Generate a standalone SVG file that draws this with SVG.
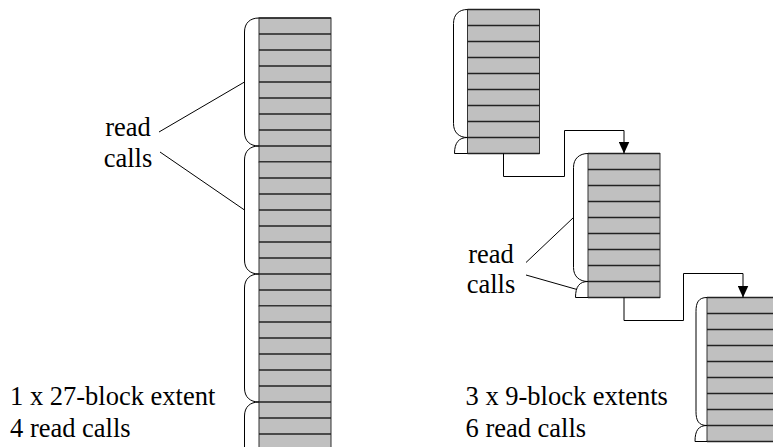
<svg xmlns="http://www.w3.org/2000/svg" xmlns:xlink="http://www.w3.org/1999/xlink" width="773" height="447" viewBox="0 0 773 447">
  <style>
    .blk { fill: #c0c0c0; stroke: #333; stroke-width: 1; }
    .sep { fill: none; stroke: #222; stroke-width: 1.4; }
    .brace { fill: none; stroke: #000; stroke-width: 1; }
    .lead { fill: none; stroke: #000; stroke-width: 1; }
    .conn { fill: none; stroke: #000; stroke-width: 1; }
  </style>
  <defs>
    <!-- one extent of nine blocks, 72 x 144 -->
    <g id="extent9">
      <rect class="blk" x="0" y="0" width="72" height="144"/>
      <path class="sep" d="M0,16h72M0,32h72M0,48h72M0,64h72M0,80h72M0,96h72M0,112h72M0,128h72M0,144h72"/>
    </g>
    <marker id="arrow" viewBox="0 0 12 11" refX="12" refY="5.5" markerWidth="12" markerHeight="11" markerUnits="userSpaceOnUse" orient="auto">
      <path d="M0,0 L12,5.5 L0,11 z" fill="#000"/>
    </marker>
  </defs>

  <!-- single 27-block extent -->
  <g id="extent-27">
    <use xlink:href="#extent9" transform="translate(259,18)"/>
    <use xlink:href="#extent9" transform="translate(259,162)"/>
    <use xlink:href="#extent9" transform="translate(259,306)"/>
    <path class="sep" d="M259,18h72"/>
  </g>

  <!-- read-call braces for the 27-block extent -->
  <g id="reads-27">
    <path class="brace" d="M259,18 C250,18 244.5,23 244.5,32 V132 C244.5,141 250,146 259,146"/>
    <path class="brace" d="M259,146 C250,146 244.5,151 244.5,160 V260 C244.5,269 250,274 259,274"/>
    <path class="brace" d="M259,274 C250,274 244.5,279 244.5,288 V388 C244.5,397 250,402 259,402"/>
    <path class="brace" d="M259,402 C250,402 244.5,407 244.5,416 V450"/>
  </g>

  <!-- three 9-block extents -->
  <g id="extent-a">
    <use xlink:href="#extent9" transform="translate(467.5,9.5)"/>
    <path class="sep" d="M467.5,9.5h72"/>
    <path class="brace" d="M467.5,9.5 C459,9.5 453.5,14.5 453.5,23.5 V123.5 C453.5,132.5 459,137.5 467.5,137.5"/>
    <path class="brace" d="M467.5,137.5 C459,137.5 454.5,142.5 454.5,153.5 H467.5"/>
  </g>
  <g id="extent-b">
    <use xlink:href="#extent9" transform="translate(588,153.5)"/>
    <path class="sep" d="M588,153.5h72"/>
    <path class="brace" d="M588,153.5 C579.5,153.5 573.5,158.5 573.5,167.5 V267.5 C573.5,276.5 579.5,281.5 588,281.5"/>
    <path class="brace" d="M588,281.5 C579.5,281.5 575.5,286.5 575.5,297.5 H588"/>
  </g>
  <g id="extent-c">
    <use xlink:href="#extent9" transform="translate(707,297.5)"/>
    <path class="sep" d="M707,297.5h72"/>
    <path class="brace" d="M707,297.5 C698.5,297.5 696,302.5 696,311.5 V411.5 C696,420.5 698.5,425.5 707,425.5"/>
    <path class="brace" d="M707,425.5 C698.5,425.5 695,430.5 695,441.5 H707"/>
  </g>

  <!-- links between extents and label leaders -->
  <g id="connectors">
    <path class="conn" d="M503.5,153.5 V176.5 H564.5 V130.5 H624 V153.5" marker-end="url(#arrow)"/>
    <path class="conn" d="M624,297.5 V320.5 H683.5 V273.5 H743 V297.5" marker-end="url(#arrow)"/>
    <path class="lead" d="M159,132 L244.5,82"/>
    <path class="lead" d="M160,152 L244.5,210"/>
    <path class="lead" d="M526,262.5 L573.5,217.5"/>
    <path class="lead" d="M526,275 L577,289.5"/>
  </g>

  <g id="labels" font-family="'Liberation Serif', 'Times New Roman', 'DejaVu Serif', serif" font-size="26.5" fill="#000">
    <text x="128" y="136" text-anchor="middle">read</text>
    <text x="128" y="166.5" text-anchor="middle">calls</text>
    <text x="491" y="262.5" text-anchor="middle">read</text>
    <text x="491" y="293" text-anchor="middle">calls</text>
    <text x="10" y="405">1 x 27-block extent</text>
    <text x="10" y="437">4 read calls</text>
    <text x="465.5" y="405">3 x 9-block extents</text>
    <text x="465.5" y="437">6 read calls</text>
  </g>
</svg>
